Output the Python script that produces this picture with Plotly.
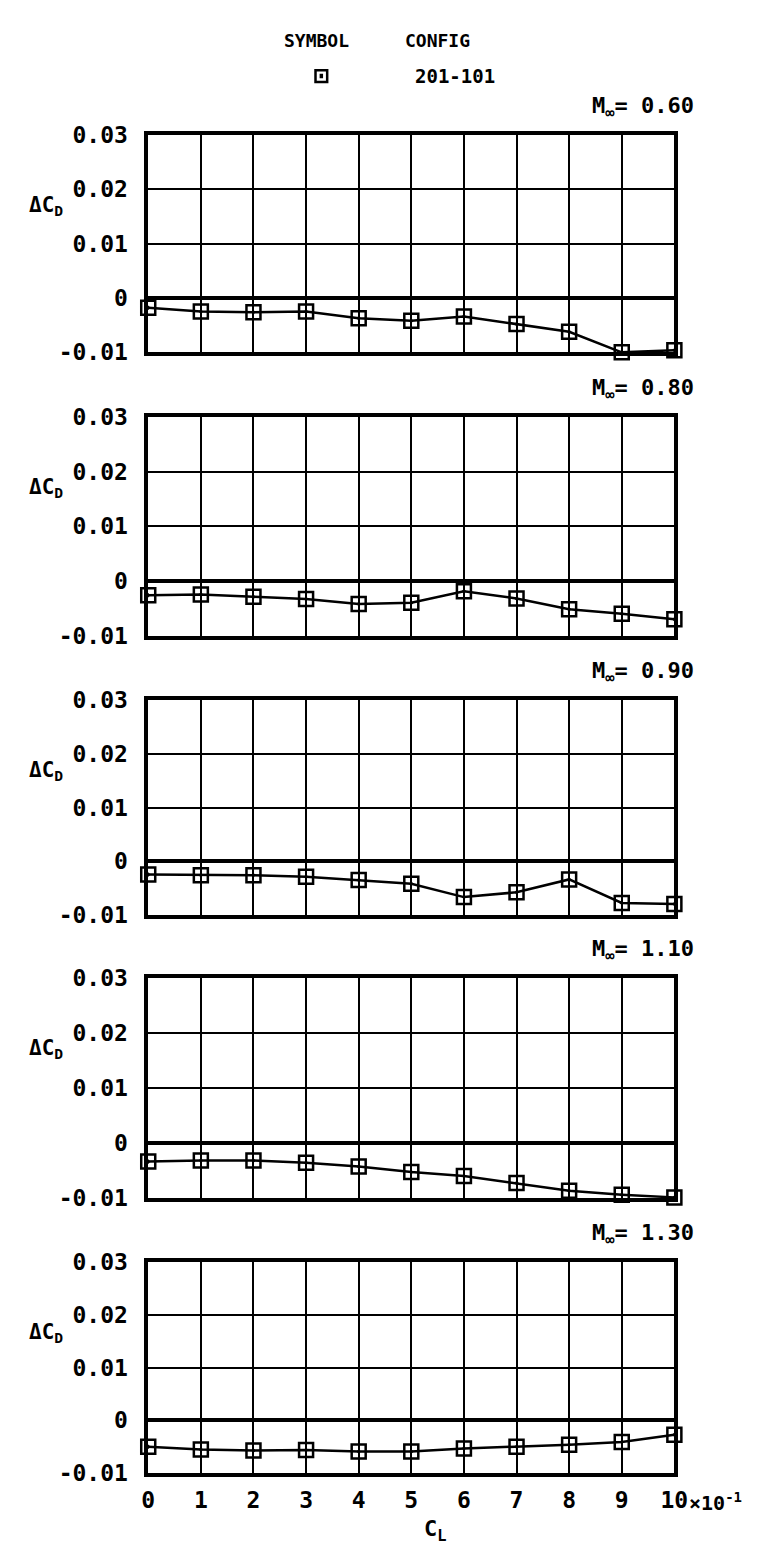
import plotly.graph_objects as go

W, H = 764, 1553

cl = [0, 1, 2, 3, 4, 5, 6, 7, 8, 9, 10]
mach_labels = ["0.60", "0.80", "0.90", "1.10", "1.30"]
dcd_m060 = [-0.0018, -0.0025, -0.0026, -0.0025, -0.0037, -0.0042, -0.0034, -0.0048, -0.0062, -0.0100, -0.0096]
dcd_m080 = [-0.0026, -0.0025, -0.0029, -0.0033, -0.0042, -0.0040, -0.0019, -0.0032, -0.0052, -0.0060, -0.0070]
dcd_m090 = [-0.0025, -0.0026, -0.0026, -0.0029, -0.0035, -0.0042, -0.0067, -0.0058, -0.0034, -0.0078, -0.0080]
dcd_m110 = [-0.0034, -0.0032, -0.0032, -0.0036, -0.0043, -0.0053, -0.0060, -0.0073, -0.0087, -0.0094, -0.0099]
dcd_m130 = [-0.0050, -0.0055, -0.0057, -0.0056, -0.0059, -0.0059, -0.0053, -0.0050, -0.0046, -0.0041, -0.0027]
series = [dcd_m060, dcd_m080, dcd_m090, dcd_m110, dcd_m130]

y_ticks = [-0.01, 0, 0.01, 0.02, 0.03]
y_ticktext = ["-0.01", "0", "0.01", "0.02", "0.03"]
x_ticks = [0, 1, 2, 3, 4, 5, 6, 7, 8, 9, 10]
x_ticktext = ["0", "1", "2", "3", "4", "5", "6", "7", "8", "9", "10"]

tops = [116, 403, 691, 973, 1262]
bottoms = [337, 625, 909, 1197, 1477]
x_left, x_right = 137, 678

FONT = "DejaVu Sans Mono"
fig = go.Figure()

for i, vals in enumerate(series):
    n = i + 1
    xa = "x" if n == 1 else f"x{n}"
    ya = "y" if n == 1 else f"y{n}"
    fig.add_trace(go.Scatter(
        x=cl, y=vals, xaxis=xa, yaxis=ya, mode="lines+markers",
        line=dict(color="black", width=2.5),
        marker=dict(symbol="square-open-dot", size=14, color="black",
                    line=dict(color="black", width=2.5)),
        cliponaxis=False, showlegend=False))

    dom_y = [1 - bottoms[i] / H, 1 - tops[i] / H]
    axkey = "xaxis" if n == 1 else f"xaxis{n}"
    aykey = "yaxis" if n == 1 else f"yaxis{n}"
    last = (n == 5)
    fig.update_layout(**{
        axkey: dict(domain=[x_left / W, x_right / W], range=[0, 10],
                    anchor=ya, tickvals=x_ticks, ticktext=x_ticktext,
                    showticklabels=last, showgrid=True, gridcolor="black",
                    gridwidth=2, showline=True, mirror=True,
                    linecolor="black", linewidth=3.5, zeroline=False,
                    ticks="", ticklabelstandoff=3,
                    tickfont=dict(family=FONT, size=23, color="black", weight="bold")),
        aykey: dict(domain=dom_y, range=[-0.01, 0.03], anchor=xa,
                    tickvals=y_ticks, ticktext=y_ticktext,
                    showgrid=True, gridcolor="black", gridwidth=2,
                    showline=True, mirror=True, linecolor="black",
                    linewidth=3.5, zeroline=True, zerolinecolor="black",
                    zerolinewidth=3.5, ticks="", ticklabelstandoff=12,
                    tickfont=dict(family=FONT, size=23, color="black", weight="bold")),
    })
    # Mach label
    fig.add_annotation(xref="paper", yref="paper", x=700 / W,
                       y=1 - (tops[i] - 28) / H, xanchor="right", yanchor="middle",
                       text=f"<b>M<sub>∞</sub>= {mach_labels[i]}</b>", showarrow=False,
                       font=dict(family=FONT, size=22, color="black"))
    # y axis title
    fig.add_annotation(xref="paper", yref="paper", x=32 / W,
                       y=1 - (tops[i] + 72) / H, xanchor="center", yanchor="middle",
                       text="<b>ΔC<sub>D</sub></b>", showarrow=False,
                       font=dict(family=FONT, size=21, color="black"))

# x-axis exponent label right of the last tick label
fig.add_annotation(xref="x5", yref="paper", x=10, xanchor="left", xshift=13,
                   y=1 - 1506 / H, yanchor="middle",
                   text="<b>×10<sup>-1</sup></b>", showarrow=False,
                   font=dict(family=FONT, size=20, color="black"))
# x-axis title
fig.add_annotation(xref="paper", yref="paper", x=432 / W, y=1 - 1535 / H,
                   xanchor="center", yanchor="middle",
                   text="<b>C<sub>L</sub></b>", showarrow=False,
                   font=dict(family=FONT, size=22, color="black"))

# legend header
fig.add_annotation(xref="paper", yref="paper", x=310 / W, y=1 - 20 / H,
                   xanchor="center", yanchor="middle", text="<b>SYMBOL</b>",
                   showarrow=False, font=dict(family=FONT, size=18, color="black"))
fig.add_annotation(xref="paper", yref="paper", x=434 / W, y=1 - 20 / H,
                   xanchor="center", yanchor="middle", text="<b>CONFIG</b>",
                   showarrow=False, font=dict(family=FONT, size=18, color="black"))
fig.add_annotation(xref="paper", yref="paper", x=452 / W, y=1 - 56 / H,
                   xanchor="center", yanchor="middle", text="<b>201-101</b>",
                   showarrow=False, font=dict(family=FONT, size=19, color="black"))
fig.add_shape(type="rect", xref="paper", yref="paper",
              x0=309 / W, x1=321 / W, y0=1 - 62 / H, y1=1 - 50 / H,
              line=dict(color="black", width=2.5))
fig.add_shape(type="rect", xref="paper", yref="paper",
              x0=314 / W, x1=316 / W, y0=1 - 57.5 / H, y1=1 - 54.5 / H,
              line=dict(color="black", width=1.5), fillcolor="black")

fig.update_layout(width=W, height=H, margin=dict(l=0, r=0, t=0, b=0),
                  paper_bgcolor="white", plot_bgcolor="white")

fig.write_html("out.html")
